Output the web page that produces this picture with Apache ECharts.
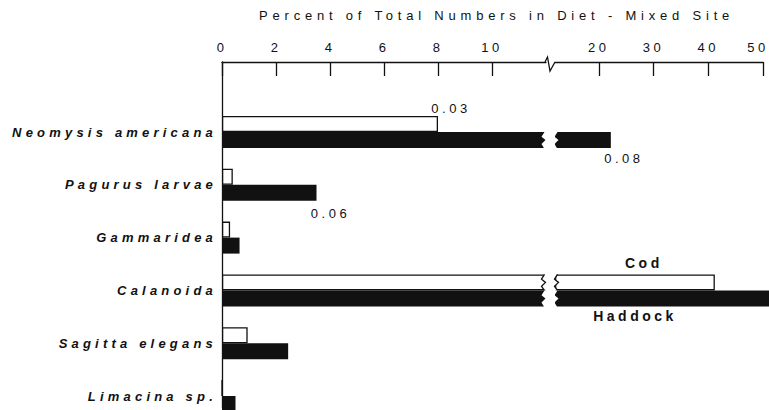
<!DOCTYPE html>
<html>
<head>
<meta charset="utf-8">
<script src="https://cdn.jsdelivr.net/npm/echarts@6/dist/echarts.min.js"></script>
<style>
  html, body { margin: 0; padding: 0; background: #fff; }
  #chart { width: 769px; height: 410px; }
  #chart text { letter-spacing: 3.5px; }
</style>
</head>
<body>
<div id="chart"></div>
<script>
// ---- data ----
const categories = ['Neomysis americana', 'Pagurus larvae', 'Gammaridea', 'Calanoida', 'Sagitta elegans', 'Limacina sp.'];
const codValues = [8.0, 0.4, 0.3, 41.2, 0.95, 0];
const haddockValues = [22.2, 3.5, 0.65, 53, 2.45, 0.5];
const codNotes = ['0.03', '', '', 'Cod', '', ''];
const haddockNotes = ['0.08', '0.06', '', 'Haddock', '', ''];
const lowTicks = [0, 2, 4, 6, 8, 10];
const highTicks = [20, 30, 40, 50];
const breakAt = 12;
const highMax = 50;
const axisTitle = 'Percent of Total Numbers in Diet - Mixed Site';

// ---- styles ----
const INK = '#111111';
const FONT = '"Liberation Sans", Arial, sans-serif';

const chart = echarts.init(document.getElementById('chart'), null, { renderer: 'svg' });

const noteStyle = {
  '0.03':    { position: ['100%', 0], align: 'center', verticalAlign: 'bottom', offset: [13, -1], fontSize: 13, fontWeight: 'normal' },
  'Cod':     { position: ['100%', 0], align: 'center', verticalAlign: 'bottom', offset: [-71, -4], fontSize: 14, fontWeight: 'bold' },
  '0.08':    { position: ['100%', '100%'], align: 'center', verticalAlign: 'top', offset: [13, 4], fontSize: 13, fontWeight: 'normal' },
  '0.06':    { position: ['100%', '100%'], align: 'center', verticalAlign: 'top', offset: [14, 6], fontSize: 13, fontWeight: 'normal' },
  'Haddock': { position: [0, '100%'], align: 'center', verticalAlign: 'top', offset: [80, 3], fontSize: 14, fontWeight: 'bold' }
};

function pieceData(values, notes, inLow) {
  return values.map((v, i) => {
    const endsHere = inLow ? v <= breakAt : v > breakAt;
    if (!inLow && v <= breakAt) return { value: '-' };
    const item = { value: v };
    if (notes[i] && endsHere) {
      const s = noteStyle[notes[i]];
      item.label = {
        show: true, formatter: notes[i], position: s.position, align: s.align,
        verticalAlign: s.verticalAlign, offset: s.offset, fontSize: s.fontSize,
        fontWeight: s.fontWeight, color: INK, fontFamily: FONT
      };
    }
    return item;
  });
}

const BAR_W = 16;
const codStyle = { color: '#ffffff', borderColor: INK, borderWidth: 1.3 };
const hadStyle = { color: INK };
const axisLineStyle = { color: INK, width: 1.3 };
const tickFont = { fontSize: 13, color: INK, fontFamily: FONT };

const option = {
  animation: false,
  backgroundColor: '#ffffff',
  title: {
    text: axisTitle, left: 259, top: 9, padding: 0,
    textStyle: { fontFamily: FONT, fontSize: 13, fontWeight: 'normal', color: INK }
  },
  grid: [
    { left: 222, top: 105.6, width: 324, height: 316.8, outerBoundsMode: 'none', containLabel: false },
    { left: 555, top: 105.6, width: 208, height: 316.8, outerBoundsMode: 'none', containLabel: false },
    { left: 222, top: 62, width: 1, height: 346, outerBoundsMode: 'none', containLabel: false }
  ],
  xAxis: [
    {
      gridIndex: 0, type: 'value', min: 0, max: breakAt, position: 'top', offset: 43.6,
      axisLine: { show: true, lineStyle: axisLineStyle },
      axisTick: { show: true, inside: true, length: 14, customValues: lowTicks, lineStyle: axisLineStyle },
      axisLabel: Object.assign({ customValues: lowTicks, margin: 8 }, tickFont),
      splitLine: { show: false }
    },
    {
      gridIndex: 1, type: 'value', min: breakAt, max: highMax, startValue: breakAt, position: 'top', offset: 43.6,
      axisLine: { show: true, lineStyle: axisLineStyle },
      axisTick: { show: true, inside: true, length: 14, customValues: highTicks, lineStyle: axisLineStyle },
      axisLabel: Object.assign({
        customValues: highTicks, margin: 8,
        formatter: v => (v === highMax ? '{edge|' + v + '}' : String(v)),
        rich: { edge: Object.assign({ padding: [0, 10, 0, 0] }, tickFont) }
      }, tickFont),
      splitLine: { show: false }
    },
    { gridIndex: 2, type: 'value', show: false }
  ],
  yAxis: [
    {
      gridIndex: 0, type: 'category', data: categories, inverse: true,
      axisLine: { show: false }, axisTick: { show: false },
      axisLabel: { margin: 5, fontSize: 13, fontStyle: 'italic', fontWeight: 'bold', color: INK, fontFamily: FONT }
    },
    { gridIndex: 1, type: 'category', data: categories, inverse: true, show: false },
    {
      gridIndex: 2, type: 'value', min: 0, max: 1,
      axisLine: { show: true, lineStyle: axisLineStyle },
      axisTick: { show: false }, axisLabel: { show: false }, splitLine: { show: false }
    }
  ],
  series: [
    { name: 'Cod', type: 'bar', xAxisIndex: 0, yAxisIndex: 0, barWidth: BAR_W, barGap: '0%',
      data: pieceData(codValues, codNotes, true), itemStyle: codStyle },
    { name: 'Haddock', type: 'bar', xAxisIndex: 0, yAxisIndex: 0, barWidth: BAR_W, barGap: '0%',
      data: pieceData(haddockValues, haddockNotes, true), itemStyle: hadStyle },
    { name: 'Cod', type: 'bar', xAxisIndex: 1, yAxisIndex: 1, barWidth: BAR_W, barGap: '0%', clip: false,
      data: pieceData(codValues, codNotes, false), itemStyle: codStyle },
    { name: 'Haddock', type: 'bar', xAxisIndex: 1, yAxisIndex: 1, barWidth: BAR_W, barGap: '0%', clip: false,
      data: pieceData(haddockValues, haddockNotes, false), itemStyle: hadStyle }
  ]
};

chart.setOption(option);

// ---- break markers (decoration derived from the two axis scales) ----
const xa = chart.convertToPixel({ xAxisIndex: 0 }, breakAt);
const xb = chart.convertToPixel({ xAxisIndex: 1 }, breakAt);
const axisY = chart.convertToPixel({ yAxisIndex: 2 }, 1);
const graphics = [{
  type: 'polyline', silent: true, z: 10,
  shape: { points: [[xa - 1, axisY], [xa + 1.5, axisY - 5], [xa + 4, axisY + 9], [xb, axisY]] },
  style: { stroke: INK, lineWidth: 1.3, fill: null }
}];

function zig(x0, top, h, dir) {
  return [[x0, top], [x0 - 3 * dir, top + h * 0.3], [x0 + 1 * dir, top + h * 0.5], [x0 - 3 * dir, top + h * 0.75], [x0, top + h]];
}
[[codValues, true], [haddockValues, false]].forEach(([vals, isCod]) => {
  vals.forEach((v, i) => {
    if (v <= breakAt) return;
    const c = chart.convertToPixel({ yAxisIndex: 0 }, categories[i]);
    const top = isCod ? c - BAR_W : c;
    const h = BAR_W;
    const left = zig(xa - 1.5, top, h, 1);
    const right = zig(xb + 2.5, top, h, 1).reverse();
    const poly = left.concat(right);
    poly[0] = [poly[0][0], top - (isCod ? 1 : 0)];
    poly[left.length - 1] = [poly[left.length - 1][0], top + h + (isCod ? 0 : 1)];
    poly[left.length] = [poly[left.length][0], top + h + (isCod ? 0 : 1)];
    poly[poly.length - 1] = [poly[poly.length - 1][0], top - (isCod ? 1 : 0)];
    graphics.push({ type: 'polygon', silent: true, z: 10, shape: { points: poly }, style: { fill: '#ffffff', stroke: null } });
    if (isCod) {
      graphics.push({ type: 'polyline', silent: true, z: 11, shape: { points: left }, style: { stroke: INK, lineWidth: 1.3, fill: null } });
      graphics.push({ type: 'polyline', silent: true, z: 11, shape: { points: zig(xb + 2.5, top, h, 1) }, style: { stroke: INK, lineWidth: 1.3, fill: null } });
    }
  });
});
chart.setOption({ graphic: graphics });

// ---- letter spacing to match the widely spaced lettering ----
function spaceText() {
  document.querySelectorAll('#chart text').forEach(t => {
    const s = t.textContent;
    if (s === axisTitle) t.style.letterSpacing = '4.8px';
    else if (categories.indexOf(s) >= 0) t.style.letterSpacing = '4.2px';
  });
}
spaceText();
chart.on('finished', spaceText);
</script>
</body>
</html>
